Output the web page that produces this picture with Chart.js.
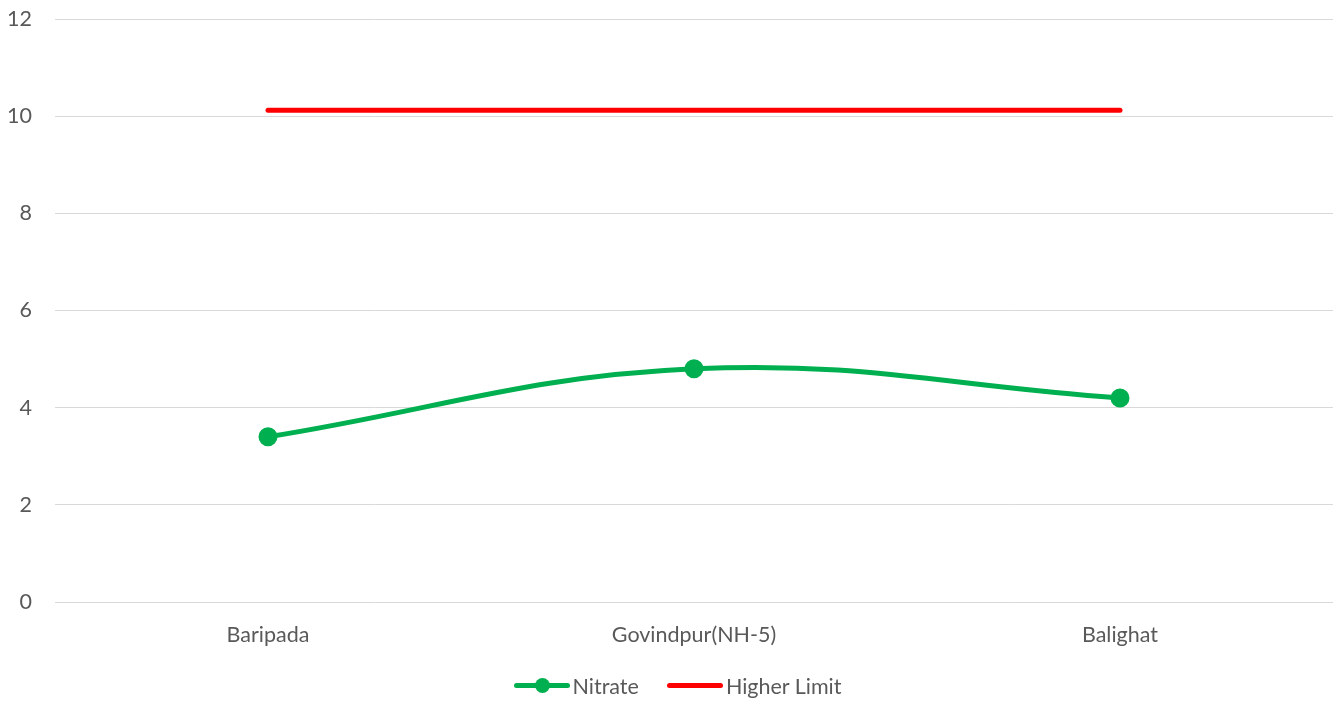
<!DOCTYPE html>
<html><head><meta charset="utf-8">
<script src="https://cdn.jsdelivr.net/npm/chart.js@4/dist/chart.umd.min.js"></script>
<style>
html,body{margin:0;padding:0;background:#fff;}
#wrap{position:relative;width:1341px;height:704px;}
#legend{position:absolute;left:7px;top:673px;width:1341px;text-align:center;font-family:Lato,"Open Sans",sans-serif;font-size:21.5px;color:#595959;white-space:nowrap;}
.item{display:inline-flex;align-items:center;margin:0 14px;}
.sw{position:relative;display:inline-block;width:56px;height:26px;margin-right:3px;}
.sw .ln{position:absolute;left:0;right:0;top:10px;height:5px;border-radius:3px;}
.sw .dt{position:absolute;left:21px;top:5px;width:15px;height:15px;border-radius:50%;}
</style></head>
<body><div id="wrap"><canvas id="c" width="1341" height="704"></canvas>
<div id="legend"></div></div>
<script>
const categories = ["Baripada", "Govindpur(NH-5)", "Balighat"];
const nitrate = [3.4, 4.8, 4.2];
const higherLimit = [10.12, 10.12, 10.12];
const yTicks = [0, 2, 4, 6, 8, 10, 12];

const GREEN = "#00b050", RED = "#ff0000", TXT = "#595959";
const FONT = {family: "Lato, 'Open Sans', sans-serif", size: 21.5};

new Chart(document.getElementById("c"), {
  type: "line",
  data: {
    labels: categories,
    datasets: [
      {label: "Nitrate", data: nitrate, borderColor: GREEN, backgroundColor: GREEN,
       borderWidth: 5, tension: 0.4, pointRadius: 7, pointHoverRadius: 7,
       pointBackgroundColor: GREEN, pointBorderColor: GREEN, borderCapStyle: "round"},
      {label: "Higher Limit", data: higherLimit, borderColor: RED, backgroundColor: RED,
       borderWidth: 5, tension: 0, pointRadius: 0, borderCapStyle: "round"}
    ]
  },
  options: {
    responsive: false, animation: false,
    layout: {autoPadding: false, padding: {top: 19, right: 8, bottom: 42, left: 0}},
    plugins: {legend: {display: false}, tooltip: {enabled: false}},
    scales: {
      x: {offset: true,
          grid: {display: false, drawTicks: false}, border: {display: false},
          ticks: {color: TXT, font: FONT, padding: 20},
          afterFit: s => { s.height = 60; s.paddingLeft = 0; s.paddingRight = 0; }},
      y: {min: 0, max: 12,
          afterBuildTicks: s => { s.ticks = yTicks.map(v => ({value: v})); },
          grid: {color: "#d9d9d9", lineWidth: 1, drawTicks: false}, border: {display: false},
          ticks: {color: TXT, font: FONT, padding: 23},
          afterFit: s => { s.width = 55; s.paddingTop = 0; s.paddingBottom = 0; }}
    }
  }
});

const leg = document.getElementById("legend");
[{label: "Nitrate", color: GREEN, dot: true}, {label: "Higher Limit", color: RED, dot: false}].forEach(d => {
  const it = document.createElement("span"); it.className = "item";
  const sw = document.createElement("span"); sw.className = "sw";
  const ln = document.createElement("span"); ln.className = "ln"; ln.style.background = d.color; sw.appendChild(ln);
  if (d.dot) { const dt = document.createElement("span"); dt.className = "dt"; dt.style.background = d.color; sw.appendChild(dt); }
  it.appendChild(sw);
  const t = document.createElement("span"); t.textContent = d.label; it.appendChild(t);
  leg.appendChild(it);
});
</script></body></html>
